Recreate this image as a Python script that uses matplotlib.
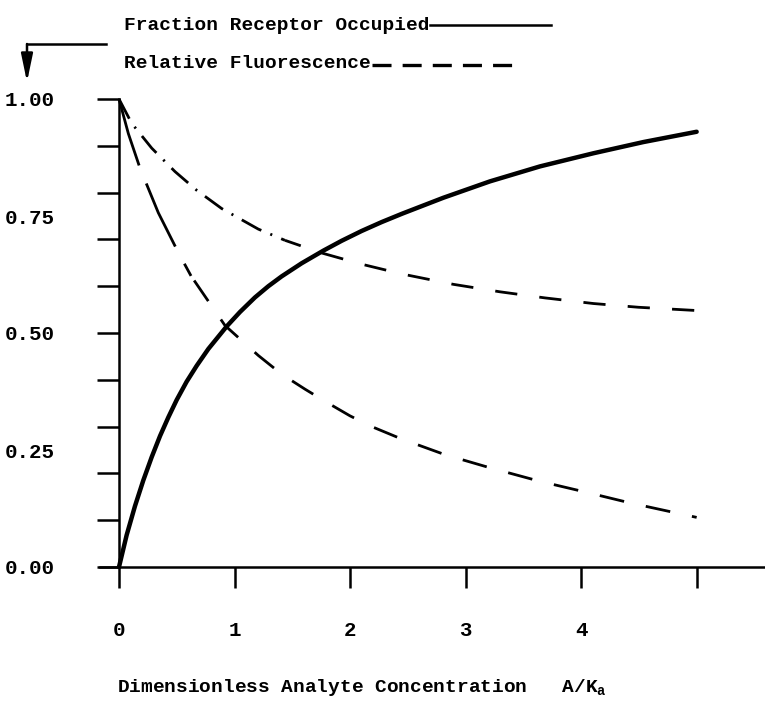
import matplotlib
matplotlib.use('Agg')
import matplotlib.pyplot as plt
from matplotlib.lines import Line2D
from matplotlib.patches import FancyArrowPatch

# ---------------- data ----------------
occ_x = [0.0, 0.066, 0.138, 0.21, 0.283, 0.355, 0.427, 0.499, 0.585, 0.672,
         0.773, 0.931, 1.047, 1.176, 1.292, 1.407, 1.58, 1.768, 1.926, 2.099,
         2.272, 2.45, 2.806, 3.209, 3.642, 4.103, 4.536, 4.997]
occ_y = [0.0, 0.068, 0.130, 0.185, 0.235, 0.280, 0.320, 0.357, 0.396, 0.430,
         0.466, 0.514, 0.545, 0.576, 0.600, 0.621, 0.649, 0.676, 0.697, 0.718,
         0.737, 0.755, 0.789, 0.824, 0.856, 0.884, 0.908, 0.930]

flu_hi_x = [0.0, 0.11, 0.283, 0.484, 0.672, 0.888, 1.205, 1.436, 1.753, 2.099,
            2.45, 2.892, 3.296, 3.685, 4.103, 4.493, 4.997]
flu_hi_y = [1.0, 0.948, 0.895, 0.845, 0.805, 0.766, 0.722, 0.698, 0.671, 0.647,
            0.626, 0.604, 0.588, 0.575, 0.563, 0.555, 0.548]

flu_lo_x = [0.0, 0.081, 0.182, 0.340, 0.513, 0.623, 0.917, 1.205, 1.407, 1.609,
            1.782, 1.998, 2.186, 2.44, 2.820, 3.209, 3.642, 4.003, 4.420, 4.997]
flu_lo_y = [1.0, 0.926, 0.852, 0.757, 0.672, 0.622, 0.516, 0.452, 0.412, 0.380,
            0.354, 0.323, 0.300, 0.274, 0.240, 0.212, 0.183, 0.162, 0.137, 0.106]

x_ticks = [0, 1, 2, 3, 4, 5]
x_tick_labels = ['0', '1', '2', '3', '4', '']
y_tick_marks = [0.0, 0.1, 0.2, 0.3, 0.4, 0.5, 0.6, 0.7, 0.8, 0.9, 1.0]
y_label_vals = [0.0, 0.25, 0.5, 0.75, 1.0]
y_label_text = ['0.00', '0.25', '0.50', '0.75', '1.00']
legend_labels = ['Fraction Receptor Occupied', 'Relative Fluorescence']
x_label = 'Dimensionless Analyte Concentration   A/K$_\\mathrm{a}$'

# ---------------- style ----------------
plt.rcParams['font.family'] = ['Liberation Mono', 'DejaVu Sans Mono']
plt.rcParams['font.weight'] = 'bold'
plt.rcParams['mathtext.fontset'] = 'custom'
plt.rcParams['mathtext.rm'] = 'Liberation Mono:bold'
plt.rcParams['lines.scale_dashes'] = False

W, H = 765, 702
fig = plt.figure(figsize=(W / 100, H / 100), dpi=100)


def fx(px):
    return px / W


def fy(py):
    return 1 - py / H


x0px, y0px = 119, 567       # pixel of data origin
xs = 115.6                  # pixels per x unit
left_px, right_px, top_px = 100, 765, 99

ax = fig.add_axes([fx(left_px), fy(y0px), (right_px - left_px) / W,
                   (y0px - top_px) / H])
ax.set_xlim((left_px - x0px) / xs, (right_px - x0px) / xs)
ax.set_ylim(0, 1)

for s in ('top', 'right'):
    ax.spines[s].set_visible(False)
ax.spines['left'].set_position(('data', 0))
ax.spines['left'].set_linewidth(1.8)
ax.spines['bottom'].set_linewidth(1.8)

ax.set_yticks(y_label_vals, y_label_text)
ax.set_yticks(y_tick_marks, minor=True)
ax.yaxis.remove_overlapping_locs = False
ax.tick_params(axis='y', which='major', length=0, pad=46, labelsize=15)
ax.tick_params(axis='y', which='minor', length=15.8, width=1.8,
               direction='out')
ax.set_xticks(x_ticks, x_tick_labels)
ax.tick_params(axis='x', which='major', length=15, width=1.8,
               direction='out', pad=24, labelsize=15)

# ---------------- curves ----------------
ax.plot(occ_x, occ_y, color='black', lw=3.2, solid_capstyle='round',
        solid_joinstyle='round', clip_on=False)

ax.plot(flu_hi_x[:8], flu_hi_y[:8], color='black', lw=2,
        ls=(0, (16, 7, 1.5, 7)), clip_on=False)
ax.plot(flu_hi_x[7:], flu_hi_y[7:], color='black', lw=2,
        ls=(4, (16, 16)), clip_on=False)

ax.plot(flu_lo_x[:6], flu_lo_y[:6], color='black', lw=2,
        ls=(0, (50, 14)), clip_on=False)
ax.plot(flu_lo_x[5:], flu_lo_y[5:], color='black', lw=2,
        ls=(30, (18, 16)), clip_on=False)

# ---------------- legend (drawn as in the figure) ----------------
fig.text(fx(124), fy(26), legend_labels[0], fontsize=14, ha='left',
         va='center')
fig.add_artist(Line2D([fx(430), fx(551)], [fy(25), fy(25)], color='black',
                      lw=1.8, transform=fig.transFigure))
fig.text(fx(124), fy(64), legend_labels[1], fontsize=14, ha='left',
         va='center')
fig.add_artist(Line2D([fx(372), fx(517)], [fy(65), fy(65)], color='black',
                      lw=2.4, ls=(0, (13.7, 8)), transform=fig.transFigure))

# arrow at top-left
fig.add_artist(Line2D([fx(106), fx(27)], [fy(44), fy(44)], color='black',
                      lw=1.8, transform=fig.transFigure))
fig.add_artist(FancyArrowPatch((fx(27), fy(44)), (fx(27), fy(82)),
                               arrowstyle='-|>,head_length=1.2,head_width=0.25',
                               mutation_scale=14, lw=1.8, color='black',
                               shrinkA=0, shrinkB=0,
                               transform=fig.transFigure))

# x label
fig.text(fx(117), fy(688), x_label, fontsize=14, ha='left', va='center')

fig.savefig('out.png', dpi=100)
